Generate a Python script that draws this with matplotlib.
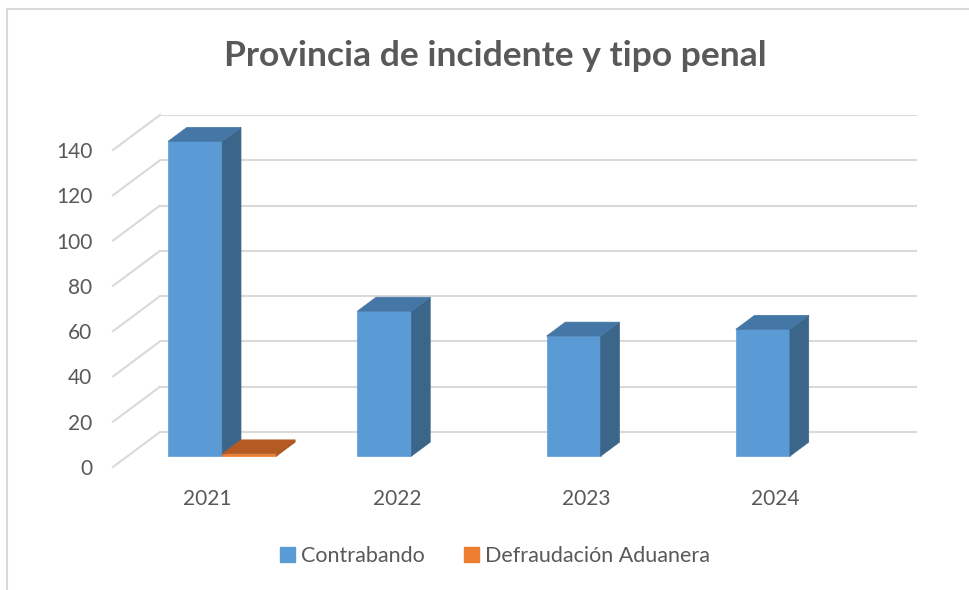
# plot.py
# Columnas "3D" estilo Excel: Provincia de incidente y tipo penal

import numpy as np
import matplotlib.pyplot as plt
from matplotlib.patches import Polygon, Patch
from matplotlib.lines import Line2D

plt.rcParams['font.family'] = ['Lato', 'DejaVu Sans']

# Datos
anios = ['2021', '2022', '2023', '2024']
contrabando = [139, 64, 53, 56]
defraudacion = [1, None, None, None]
y_ticks = [0, 20, 40, 60, 80, 100, 120, 140]

# Colores
azul = '#5B9BD5'
azul_lado = '#3B6689'
azul_tope = '#4577A6'
naranja = '#ED7D31'
naranja_lado = '#A8541E'
naranja_tope = '#B55A22'
gris_txt = '#595959'
gris_grid = '#D9D9D9'

# Profundidad oblicua (en unidades de datos)
DX = 0.2484
DY = 15.45
F0, F1 = 0.31, 0.71  # profundidad de las barras
W = 0.286            # ancho de barra

fig = plt.figure(figsize=(9.69, 5.90), dpi=100)
ax = fig.add_axes([0.1166, 0.2085, 0.8297, 0.5966])
ax.set_xlim(0, len(anios) + DX)
ax.set_ylim(0, max(y_ticks) + DY)

# Líneas de cuadrícula: pared trasera + diagonal lateral
for v in y_ticks:
    ax.plot([DX, len(anios) + DX], [v + DY, v + DY], color=gris_grid, lw=1.5, zorder=1,
            solid_capstyle='butt')
    ax.plot([0, DX], [v, v + DY], color=gris_grid, lw=1.5, zorder=1, clip_on=False)


def barra_3d(xs, vals, cara, lado, tope):
    xs = np.array(xs, dtype=float)
    vals = np.array(vals, dtype=float)
    ax.bar(xs + F0 * DX, vals, width=W, bottom=F0 * DY, align='edge',
           color=cara, edgecolor=cara, lw=0.5, zorder=3)
    for x, v in zip(xs, vals):
        xr = x + W
        lado_pts = [(xr + F0 * DX, F0 * DY), (xr + F1 * DX, F1 * DY),
                    (xr + F1 * DX, v + F1 * DY), (xr + F0 * DX, v + F0 * DY)]
        tope_pts = [(x + F0 * DX, v + F0 * DY), (xr + F0 * DX, v + F0 * DY),
                    (xr + F1 * DX, v + F1 * DY), (x + F1 * DX, v + F1 * DY)]
        ax.add_patch(Polygon(lado_pts, closed=True, facecolor=lado, edgecolor=lado,
                             lw=0.5, zorder=3))
        ax.add_patch(Polygon(tope_pts, closed=True, facecolor=tope, edgecolor=tope,
                             lw=0.5, zorder=3))


pos = np.arange(len(anios)) + 0.5
barra_3d(pos - W, contrabando, azul, azul_lado, azul_tope)
d_pos = [p for p, v in zip(pos, defraudacion) if v is not None]
d_val = [v for v in defraudacion if v is not None]
barra_3d(d_pos, d_val, naranja, naranja_lado, naranja_tope)

# Ejes
for s in ax.spines.values():
    s.set_visible(False)
ax.set_yticks(y_ticks)
ax.set_yticklabels([str(t) for t in y_ticks])
ax.set_xticks(pos)
ax.set_xticklabels(anios)
ax.tick_params(axis='y', length=0, pad=15, labelsize=15, labelcolor=gris_txt)
ax.tick_params(axis='x', length=0, pad=16, labelsize=15, labelcolor=gris_txt)

# Título
fig.text(0.511, 1 - 56 / 590, 'Provincia de incidente y tipo penal', ha='center',
         va='center', fontsize=25.5, fontweight='bold', color=gris_txt)

# Leyenda
handles = [Patch(facecolor=azul, edgecolor=azul, label='Contrabando'),
           Patch(facecolor=naranja, edgecolor=naranja, label='Defraudación Aduanera')]
leg = fig.legend(handles=handles, loc='center', bbox_to_anchor=(0.511, 1 - 556 / 590),
                 ncol=2, frameon=False, fontsize=15.5, handlelength=0.7, handleheight=0.7,
                 handletextpad=0.3, columnspacing=1.8)
for t in leg.get_texts():
    t.set_color(gris_txt)

# Borde del gráfico
fig.add_artist(Line2D([7 / 969, 7 / 969], [0, 1 - 9 / 590], color=gris_grid, lw=1.5))
fig.add_artist(Line2D([7 / 969, 1], [1 - 9 / 590, 1 - 9 / 590], color=gris_grid, lw=1.5))

fig.savefig('out.png', dpi=100)
plt.close(fig)
